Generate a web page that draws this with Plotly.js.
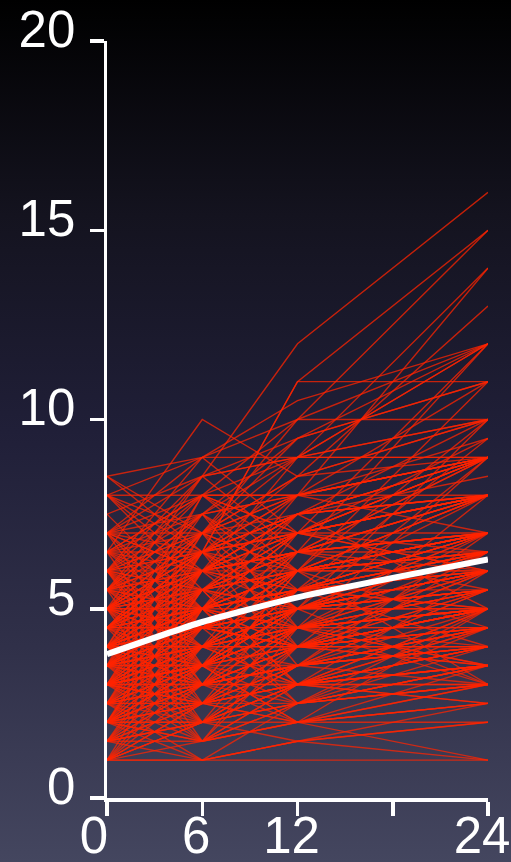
<!DOCTYPE html>
<html>
<head>
<meta charset="utf-8">
<script src="https://cdn.plot.ly/plotly-3.0.1.min.js"></script>
<style>
  html, body { margin: 0; padding: 0; }
  body {
    width: 511px; height: 862px; overflow: hidden;
    background: linear-gradient(to bottom, #000000 0%, #14131f 25%, #201f38 50%, #303049 75%, #44465f 100%);
  }
  #chart { width: 511px; height: 862px; }
</style>
</head>
<body>
<div id="chart"></div>
<script>
// Time points (months)
const times = [0, 6, 12, 24];
const xTickVals = [0, 6, 12, 18, 24];
const xTickText = ['0\u00a0', '6', '12', '', '24'];
const yTickVals = [0, 5, 10, 15, 20];
const yTickText = ['0', '5', '10', '15', '20'];

// Mean (white) line
const meanValues = [3.8, 4.65, 5.3, 6.3];

// Individual subjects: values at [0, 6, 12, 24]
const highSubjects = [
  [6, 8.5, 12, 16], [5, 7, 10, 15], [4, 6, 9, 14], [4.5, 6.5, 11, 15],
  [3.5, 5, 8, 14], [6.5, 10, 8.5, 13], [8.5, 9, 10, 12], [5.5, 7.5, 9, 12],
  [4, 5.5, 7, 12], [3, 4.5, 6.5, 12], [7, 6.5, 11, 11], [8, 7, 9.5, 11],
  [5, 6, 8, 11], [2.5, 4, 6, 11], [6, 8, 10, 10], [4.5, 6, 7.5, 10],
  [3.5, 5, 6, 10], [2, 3.5, 5, 10], [5.5, 6, 7, 9.5], [3, 4, 5.5, 9.5],
  [7, 7.5, 8, 9], [6, 5.5, 7, 9], [4, 5, 6.5, 9], [3.5, 4.5, 5, 9],
  [2.5, 3, 4.5, 9], [5, 7, 9, 9], [8, 6, 7.5, 8.5], [6.5, 7, 6, 8],
  [4.5, 5.5, 7, 8], [3, 3.5, 5.5, 8], [5, 4.5, 6, 8], [2, 3, 4, 8],
  [6, 7.5, 9.5, 12], [7, 9, 10.5, 12], [8, 8, 8, 8], [6.5, 7.5, 8, 9],
  [3.5, 6, 7.5, 9], [2.5, 5, 6, 8], [4, 6.5, 7, 8], [5, 5, 7, 8],
  [6.5, 8, 9, 10], [5, 6.5, 8, 9.5], [7.5, 8.5, 9, 10], [5.5, 8, 8, 9],
  [4.5, 7, 8.5, 9], [6, 7, 8, 9], [5.5, 6.5, 8.5, 10], [7, 8.5, 9.5, 11],
  [8, 9, 9, 9], [3.5, 5, 7, 9], [5, 6, 7, 9], [4, 5, 7.5, 9]
];

const midSubjects = [
  [8.5, 7, 6, 7], [7, 6, 5.5, 7], [4, 4.5, 5, 7], [3, 4, 6, 7],
  [5.5, 5, 5.5, 7], [2.5, 3.5, 4.5, 7], [1.5, 2.5, 3.5, 7], [6.5, 5.5, 6.5, 6.5],
  [4.5, 5, 4.5, 6.5], [3.5, 3, 4, 6.5], [2, 2.5, 3.5, 6.5], [6, 6.5, 7, 6],
  [5, 5.5, 5, 6], [3, 4.5, 4, 6], [4, 3.5, 5.5, 6], [1.5, 2, 3, 6],
  [7, 6, 6.5, 5.5], [5, 4, 5, 5.5], [3.5, 4, 4.5, 5.5], [2.5, 3, 3.5, 5.5],
  [6, 5, 5.5, 5], [4.5, 4.5, 4, 5], [3, 3.5, 4.5, 5], [2, 2.5, 3, 5],
  [4, 5, 6, 7], [3.5, 4.5, 5.5, 6.5], [5, 5.5, 6, 6.5], [4.5, 5.5, 5, 5.5],
  [3, 4, 4.5, 5], [4, 4.5, 5.5, 6], [6, 6.5, 6, 7], [5.5, 6.5, 7.5, 8],
  [3.5, 4, 5, 6], [4.5, 5, 6, 6.5], [5, 6, 6.5, 7], [4, 4.5, 4.5, 5],
  [3.5, 5, 5.5, 6.5], [6.5, 6, 7, 8], [5.5, 5.5, 6, 6], [4.5, 4, 5, 5.5],
  [4, 5.5, 6.5, 8], [5, 5, 5.5, 6.5], [6, 7, 8, 9], [4.5, 6.5, 7, 8],
  [2, 3.5, 4.5, 5.5], [3, 4.5, 5, 6], [5.5, 4.5, 5, 5], [7, 7, 7.5, 8],
  [3.5, 5.5, 6, 7], [4, 4, 5, 6.5], [2.5, 4, 5, 6], [3, 5, 5.5, 6.5],
  [4.5, 3.5, 4.5, 5], [6, 4.5, 5, 6], [2, 4, 4, 5], [4, 6, 6, 6.5],
  [5.5, 7, 7, 7], [3, 5.5, 6.5, 7], [3, 3.5, 5, 6], [2, 2.5, 4, 5],
  [4.5, 4.5, 5.5, 5.5], [5.5, 6, 5.5, 5], [4, 5, 5, 5], [5, 4, 4.5, 5],
  [6, 5.5, 6, 6.5], [4.5, 5, 5.5, 6], [3.5, 4.5, 4.5, 5], [3, 4, 4, 4.5],
  [4, 4.5, 6, 7], [6.5, 6.5, 7.5, 8], [2.5, 4.5, 5.5, 7], [1, 2, 3.5, 5.5],
  [3.5, 3.5, 5, 5.5], [6, 6, 6.5, 7], [4.5, 6, 6.5, 8], [2.5, 3.5, 5, 6.5],
  [5, 6.5, 7.5, 8], [4, 4, 4.5, 5.5], [3, 3.5, 4, 5], [1, 2, 2.5, 5]
];

const lowSubjects = [
  [5.5, 5, 4.5, 4.5], [4, 4, 4, 4.5], [2.5, 3, 3.5, 4.5], [1.5, 2, 2.5, 4.5],
  [5, 4.5, 4, 4], [3, 3.5, 3, 4], [2, 2, 3, 4], [4, 3.5, 4.5, 3.5],
  [2.5, 2.5, 3, 3.5], [1, 1.5, 2, 3.5], [3.5, 3, 3.5, 3], [2, 2, 2.5, 3],
  [1.5, 1.5, 2, 2.5], [3, 2.5, 3, 2.5], [1, 1, 1.5, 2], [2.5, 2.5, 2, 2],
  [1, 1, 1, 1], [3, 2.5, 2, 1], [1.5, 1, 1.5, 2.5], [2.5, 3.5, 4, 4.5],
  [3, 3, 4, 5], [2, 3, 3.5, 4], [3, 3.5, 3.5, 4.5], [2.5, 2, 3, 3.5],
  [3.5, 3.5, 4.5, 4.5], [4, 3, 4, 4], [1.5, 2.5, 3, 3.5], [5, 3.5, 4, 4.5],
  [3.5, 2.5, 3.5, 4], [1.5, 3, 3.5, 4.5], [1, 2.5, 3, 4], [3.5, 4, 4, 4],
  [2.5, 3, 3, 3], [1.5, 2, 2, 3], [3, 2.5, 2.5, 3.5], [2, 3, 3, 4.5],
  [3, 3, 3.5, 4], [4.5, 4.5, 4, 4], [2, 1.5, 2.5, 3.5], [2, 1, 1.5, 1]
];

const variableSubjects = [
  [1, 4, 3, 5], [1.5, 5, 4, 6], [2, 6, 5, 7], [1, 3.5, 5.5, 4], [2.5, 6.5, 5, 5.5],
  [6, 2.5, 4, 5], [5.5, 2, 3.5, 4], [7, 3.5, 5, 6], [6.5, 3, 4.5, 3.5], [5, 1.5, 3, 4],
  [4.5, 2, 5, 3], [3.5, 7, 4, 5.5], [2, 5.5, 3, 4.5], [3, 6, 7.5, 5], [4, 7.5, 6, 6.5],
  [1.5, 4.5, 6.5, 8], [2, 4, 7, 9], [1, 3, 5, 6.5], [2.5, 5.5, 4.5, 6], [3, 1.5, 3, 3.5],
  [4, 2, 3.5, 5], [5, 3, 6, 7], [6, 4, 3.5, 4.5], [7, 4.5, 4, 5], [8, 5.5, 6.5, 6],
  [6.5, 4.5, 6, 3], [5.5, 3.5, 2.5, 3.5], [4.5, 6.5, 3.5, 4], [3.5, 1.5, 2, 2.5], [2, 4.5, 2.5, 3],
  [1.5, 3.5, 2, 5], [1, 2.5, 4.5, 3], [3, 6.5, 5.5, 7], [4, 2.5, 5.5, 6], [5, 7.5, 5.5, 6.5],
  [6, 3.5, 6.5, 8], [2.5, 1.5, 4, 5.5], [3.5, 5.5, 3, 3.5], [4.5, 3, 6, 4.5], [5.5, 7.5, 4.5, 5],
  [1, 5, 4, 4.5], [2, 1.5, 4.5, 6], [3, 5, 2.5, 4], [4, 1.5, 2.5, 3], [6.5, 5, 3, 4],
  [7, 5, 7, 6], [8, 6.5, 5, 5.5], [7.5, 5, 6, 7], [5, 2.5, 4.5, 5.5], [4.5, 7, 5, 6],
  [3.5, 6.5, 8, 7], [2.5, 6, 6.5, 9], [1.5, 4, 5.5, 7], [2, 5, 6, 6], [3, 2, 4, 5],
  [4, 3, 2.5, 3.5], [5.5, 4, 3, 2.5], [6, 3, 2, 3], [3.5, 2, 1.5, 2], [2.5, 1, 2.5, 3],
  [1.5, 3, 4, 3.5], [1, 2, 3, 3], [2, 3.5, 2, 2.5], [4.5, 6, 4, 3.5], [5, 6.5, 4.5, 4],
  [6.5, 8, 6.5, 7], [7, 8, 7, 6.5], [8.5, 6.5, 7.5, 9], [6, 9, 7, 8], [5.5, 8.5, 6.5, 7],
  [3, 7, 8.5, 10], [4, 8, 6, 7], [2, 5.5, 7.5, 9], [3.5, 8, 7, 8], [5, 8.5, 9, 12]
];

const subjects = highSubjects.concat(midSubjects, lowSubjects, variableSubjects);

const traces = subjects.map(vals => ({
  type: 'scatter',
  mode: 'lines',
  x: times,
  y: vals,
  line: { color: 'rgba(255,36,0,0.75)', width: 1.4 },
  hoverinfo: 'skip',
  showlegend: false
}));

traces.push({
  type: 'scatter',
  mode: 'lines',
  x: times,
  y: meanValues,
  line: { color: '#ffffff', width: 6, shape: 'spline', smoothing: 0.6 },
  hoverinfo: 'skip',
  showlegend: false
});

const axisFont = { family: 'Liberation Sans, Arial, sans-serif', size: 51, color: '#ffffff' };

const layout = {
  width: 511,
  height: 862,
  margin: { l: 107, r: 23, t: 41, b: 64 },
  paper_bgcolor: 'rgba(0,0,0,0)',
  plot_bgcolor: 'rgba(0,0,0,0)',
  showlegend: false,
  xaxis: {
    range: [0, 24],
    tickmode: 'array',
    tickvals: xTickVals,
    ticktext: xTickText,
    showgrid: false,
    zeroline: false,
    showline: true,
    linecolor: '#ffffff',
    linewidth: 3.5,
    ticks: 'outside',
    ticklen: 14,
    tickwidth: 3.5,
    tickcolor: '#ffffff',
    tickfont: axisFont,
    ticklabelshift: -6,
    ticklabelstandoff: -24
  },
  yaxis: {
    range: [0, 20],
    tickmode: 'array',
    tickvals: yTickVals,
    ticktext: yTickText,
    showgrid: false,
    zeroline: false,
    showline: true,
    linecolor: '#ffffff',
    linewidth: 3.5,
    ticks: 'outside',
    ticklen: 14,
    tickwidth: 3.5,
    tickcolor: '#ffffff',
    tickfont: axisFont,
    ticklabelshift: -12,
    ticklabelstandoff: 4
  }
};

Plotly.newPlot('chart', traces, layout, { displayModeBar: false, staticPlot: true });
</script>
</body>
</html>
